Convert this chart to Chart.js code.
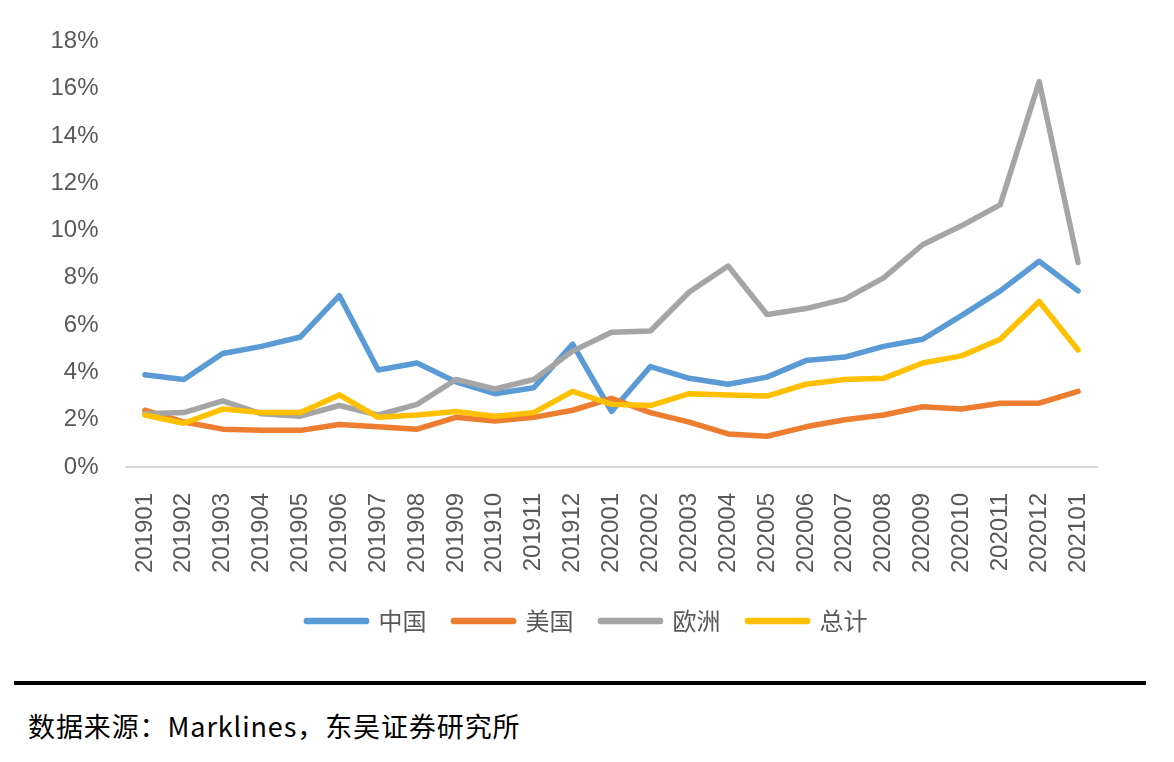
<!DOCTYPE html>
<html>
<head>
<meta charset="utf-8">
<script src="https://cdn.jsdelivr.net/npm/chart.js@4"></script>
<style>
  body { margin: 0; background: #fff; }
  #wrap { position: absolute; left: 0; top: 0; width: 1174px; height: 643px; }
  #rule { position: absolute; left: 14px; top: 681px; width: 1132px; height: 4px; background: #000; }
  #src { position: absolute; left: 28px; top: 706px; font: 27px "Noto Sans CJK SC", sans-serif; letter-spacing: 0.9px; color: #000; }
</style>
</head>
<body>
<div id="wrap"><canvas id="c"></canvas></div>
<div id="rule"></div>
<div id="src">数据来源：Marklines，东吴证券研究所</div>
<script>
const months = ['201901','201902','201903','201904','201905','201906','201907','201908','201909','201910','201911','201912',
  '202001','202002','202003','202004','202005','202006','202007','202008','202009','202010','202011','202012','202101'];
const china  = [3.9, 3.7, 4.8, 5.1, 5.5, 7.25, 4.1, 4.4, 3.6, 3.1, 3.35, 5.2, 2.35, 4.25, 3.75, 3.5, 3.8, 4.5, 4.65, 5.1, 5.4, 6.4, 7.45, 8.7, 7.45];
const usa    = [2.4, 1.9, 1.6, 1.55, 1.55, 1.8, 1.7, 1.6, 2.1, 1.95, 2.1, 2.4, 2.9, 2.3, 1.9, 1.4, 1.3, 1.7, 2.0, 2.2, 2.55, 2.45, 2.7, 2.7, 3.2];
const europe = [2.25, 2.3, 2.8, 2.25, 2.15, 2.6, 2.2, 2.65, 3.7, 3.3, 3.7, 4.9, 5.7, 5.75, 7.4, 8.5, 6.45, 6.7, 7.1, 8.0, 9.4, 10.2, 11.1, 16.3, 8.65];
const total  = [2.2, 1.85, 2.45, 2.3, 2.3, 3.05, 2.1, 2.2, 2.35, 2.15, 2.3, 3.2, 2.65, 2.6, 3.1, 3.05, 3.0, 3.5, 3.7, 3.75, 4.4, 4.7, 5.4, 7.0, 4.95];
const yTicks = [0, 2, 4, 6, 8, 10, 12, 14, 16, 18];

const series = [
  { label: '中国', data: china,  color: '#5B9BD5', order: 4 },
  { label: '美国', data: usa,    color: '#ED7D31', order: 3 },
  { label: '欧洲', data: europe, color: '#A5A5A5', order: 2 },
  { label: '总计', data: total,  color: '#FFC000', order: 1 },
];

const tickFont = { family: '"Liberation Sans", Arial, sans-serif', size: 24 };

new Chart(document.getElementById('c'), {
  type: 'line',
  data: {
    labels: months,
    datasets: series.map(s => ({
      label: s.label,
      data: s.data,
      order: s.order,
      borderColor: s.color,
      backgroundColor: s.color,
      borderWidth: 5.5,
      borderJoinStyle: 'round',
      borderCapStyle: 'round',
      pointRadius: 0,
      tension: 0,
    }))
  },
  options: {
    responsive: true,
    maintainAspectRatio: false,
    animation: false,
    layout: { padding: { top: 38, right: 0, left: 0, bottom: 0 } },
    plugins: {
      tooltip: { enabled: false },
      legend: {
        position: 'bottom',
        labels: {
          sort: (a, b) => a.datasetIndex - b.datasetIndex,
          boxWidth: 60,
          boxHeight: 1,
          padding: 27,
          color: '#595959',
          font: { family: '"Noto Sans CJK SC", sans-serif', size: 24 },
        }
      }
    },
    scales: {
      x: {
        offset: true,
        grid: { display: false },
        border: { display: true, color: '#D9D9D9', width: 2 },
        ticks: { color: '#595959', font: tickFont, minRotation: 90, maxRotation: 90, padding: 18, autoSkip: false },
        afterFit(scale) { scale.height = 115; }
      },
      y: {
        min: 0,
        max: 18,
        grid: { display: false, drawTicks: false },
        border: { display: false },
        afterBuildTicks(scale) { scale.ticks = yTicks.map(v => ({ value: v })); },
        afterFit(scale) { scale.width = 125.5; },
        ticks: { color: '#595959', font: tickFont, padding: 27, callback: v => v + '%' }
      },
      // empty right-hand gutter so the plot ends where the reference does
      y2: {
        position: 'right',
        display: true,
        grid: { display: false, drawTicks: false },
        border: { display: false },
        ticks: { display: false },
        afterFit(scale) { scale.width = 76.5; }
      }
    }
  }
});
</script>
</body>
</html>
